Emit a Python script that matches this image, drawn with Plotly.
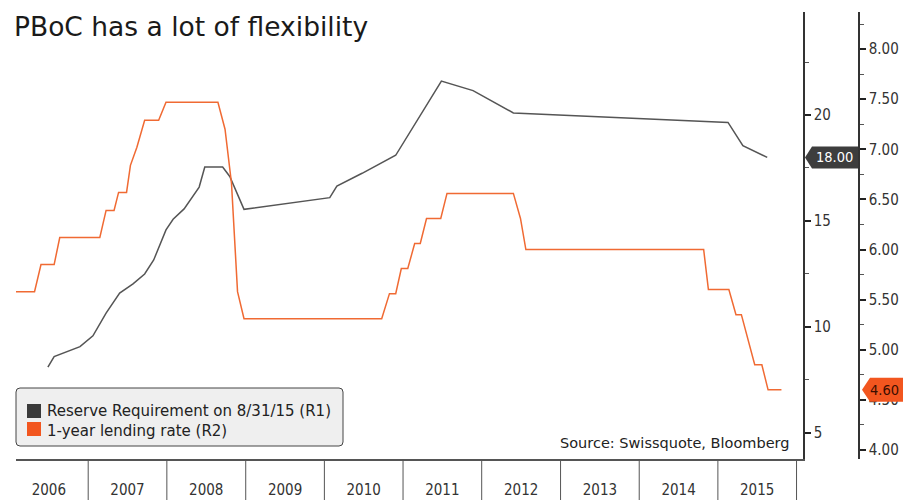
import plotly.graph_objects as go

# ---------------- data ----------------
rr_dates = ["2006-06-28", "2006-07-27", "2006-11-24", "2007-01-23", "2007-03-25",
            "2007-05-27", "2007-07-28", "2007-09-20", "2007-11-01", "2007-12-28",
            "2008-01-30", "2008-03-21", "2008-05-30", "2008-06-25", "2008-09-16",
            "2008-10-19", "2008-12-24", "2010-01-26", "2010-02-28", "2010-06-25",
            "2010-11-28", "2011-06-28", "2011-11-22", "2012-05-27", "2015-02-17",
            "2015-04-27", "2015-08-18"]
rr_values = [8.1, 8.6, 9.07, 9.58, 10.65,
             11.6, 12.03, 12.5, 13.16, 14.58,
             15.08, 15.57, 16.6, 17.55, 17.55,
             17.1, 15.55, 16.1, 16.65, 17.25,
             18.1, 21.6, 21.15, 20.1, 19.65,
             18.55, 18.0]

lr_dates = ["2006-01-15", "2006-04-27", "2006-05-27", "2006-07-27", "2006-08-22",
            "2007-02-24", "2007-03-25", "2007-05-01", "2007-05-22", "2007-06-28",
            "2007-07-16", "2007-08-15", "2007-09-20", "2007-11-24", "2007-12-28",
            "2008-08-25", "2008-09-27", "2008-10-27", "2008-11-24", "2008-12-24",
            "2010-09-24", "2010-10-30", "2010-11-28", "2010-12-24", "2011-01-23",
            "2011-02-24", "2011-03-22", "2011-04-20", "2011-06-25", "2011-07-24",
            "2012-05-27", "2012-06-29", "2012-07-24", "2014-10-27", "2014-11-18",
            "2015-02-21", "2015-03-26", "2015-04-20", "2015-06-21", "2015-07-24",
            "2015-08-22", "2015-10-23"]
lr_values = [5.58, 5.58, 5.85, 5.85, 6.12,
             6.12, 6.39, 6.39, 6.57, 6.57,
             6.84, 7.02, 7.29, 7.29, 7.47,
             7.47, 7.20, 6.66, 5.58, 5.31,
             5.31, 5.56, 5.56, 5.81, 5.81,
             6.06, 6.06, 6.31, 6.31, 6.56,
             6.56, 6.31, 6.00, 6.00, 5.60,
             5.60, 5.35, 5.35, 4.85, 4.85,
             4.60, 4.60]

series_names = ["Reserve Requirement on 8/31/15 (R1)", "1-year lending rate (R2)"]
year_bounds = [2007, 2008, 2009, 2010, 2011, 2012, 2013, 2014, 2015, 2016]
r1_ticks = [5, 10, 15, 20]
r2_ticks = [4.0, 4.5, 5.0, 5.5, 6.0, 6.5, 7.0, 7.5, 8.0]
title_text = "PBoC has a lot of flexibility"
source_text = "Source: Swissquote, Bloomberg"

# ---------------- styling ----------------
GREY = "#555555"
ORANGE = "#F06A33"
ORANGE_BOX = "#F2561F"
DARK_BOX = "#3D3D3D"
TXT = "#333333"
FONT_C = "'DejaVu Sans Condensed', 'DejaVu Sans', sans-serif"
FONT_R = "'DejaVu Sans', sans-serif"

W, H = 903, 500
L, R, T, B = 16, 44, 12, 41
PW, PH = W - L - R, H - T - B


def px(x):
    return (x - L) / PW


def py(y):
    return (H - B - y) / PH


fig = go.Figure()
fig.add_trace(go.Scatter(x=rr_dates, y=rr_values, mode="lines", name=series_names[0],
                         line=dict(color=GREY, width=1.5), yaxis="y", showlegend=False))
fig.add_trace(go.Scatter(x=lr_dates, y=lr_values, mode="lines", name=series_names[1],
                         line=dict(color=ORANGE, width=1.5), yaxis="y2", showlegend=False))

shapes = []
for yr in year_bounds:
    shapes.append(dict(type="line", xref="x", yref="paper", x0=f"{yr}-01-01", x1=f"{yr}-01-01",
                       y0=0, y1=-0.1, line=dict(color="#555555", width=1), layer="above"))

# legend box (rounded)
hw, hh, r = 163.5, 29, 4
path = (f"M{-hw + r},{-hh} L{hw - r},{-hh} Q{hw},{-hh} {hw},{-hh + r} L{hw},{hh - r} "
        f"Q{hw},{hh} {hw - r},{hh} L{-hw + r},{hh} Q{-hw},{hh} {-hw},{hh - r} "
        f"L{-hw},{-hh + r} Q{-hw},{-hh} {-hw + r},{-hh} Z")
shapes.append(dict(type="path", xref="paper", yref="paper", xsizemode="pixel", ysizemode="pixel",
                   xanchor=px(179.5), yanchor=py(417), path=path,
                   fillcolor="#EFEFEF", line=dict(color="#444444", width=1), layer="above"))
shapes.append(dict(type="rect", xref="paper", yref="paper", x0=px(27), x1=px(41),
                   y0=py(418), y1=py(404), fillcolor="#3A3A3A", line=dict(width=0), layer="above"))
shapes.append(dict(type="rect", xref="paper", yref="paper", x0=px(27), x1=px(41),
                   y0=py(436), y1=py(422), fillcolor=ORANGE_BOX, line=dict(width=0), layer="above"))

# last-value tags
shapes.append(dict(type="path", xref="paper", yref="y", xsizemode="pixel", ysizemode="pixel",
                   xanchor=px(805), yanchor=rr_values[-1],
                   path="M0,0 L7,11 L53,11 L53,-11 L7,-11 Z",
                   fillcolor=DARK_BOX, line=dict(width=0), layer="above"))
shapes.append(dict(type="path", xref="paper", yref="y2", xsizemode="pixel", ysizemode="pixel",
                   xanchor=px(862), yanchor=lr_values[-1],
                   path="M0,0 L8,12 L48,12 L48,-12 L8,-12 Z",
                   fillcolor=ORANGE_BOX, line=dict(width=0), layer="above"))

annotations = [
    dict(text=series_names[0], xref="paper", yref="paper", x=px(45), y=py(411),
         xanchor="left", yanchor="middle", showarrow=False, font=dict(size=15, color="#222222", family=FONT_R)),
    dict(text=series_names[1], xref="paper", yref="paper", x=px(45), y=py(431),
         xanchor="left", yanchor="middle", showarrow=False, font=dict(size=15, color="#222222", family=FONT_R)),
    dict(text=source_text, xref="paper", yref="paper", x=px(791), y=py(443),
         xanchor="right", yanchor="middle", showarrow=False, font=dict(size=14.5, color="#222222", family=FONT_R)),
    dict(text=f"{rr_values[-1]:.2f}", xref="paper", yref="y", x=px(834), y=rr_values[-1],
         xanchor="center", yanchor="middle", showarrow=False, font=dict(size=14.5, color="white", family=FONT_C)),
    dict(text=f"{lr_values[-1]:.2f}", xref="paper", yref="y2", x=px(885), y=lr_values[-1],
         xanchor="center", yanchor="middle", showarrow=False, font=dict(size=14.5, color="#3A0E00", family=FONT_C)),
]

fig.update_layout(
    width=W, height=H,
    margin=dict(l=L, r=R, t=T, b=B, autoexpand=False),
    paper_bgcolor="white", plot_bgcolor="white",
    font=dict(family=FONT_C, color=TXT, size=14),
    title=dict(text=title_text, x=14 / W, xanchor="left", y=1 - 27 / H, yanchor="middle",
               font=dict(size=26.5, color="#1A1A1A", family=FONT_R)),
    xaxis=dict(type="date", domain=[0, (803 - L) / PW], range=["2006-01-31", "2016-01-31"],
               tick0="2006-01-01", dtick="M12", tickformat="%Y", ticklabelmode="period",
               ticks="", ticklabelstandoff=16, showgrid=False, zeroline=False, automargin=False,
               showline=True, linecolor="#555555", linewidth=2,
               tickfont=dict(size=15, color=TXT, family=FONT_C)),
    yaxis=dict(side="right", anchor="x", range=[3.77, 24.86], tickvals=r1_ticks, automargin=False,
               ticks="outside", ticklen=6, tickwidth=2, tickcolor="#222222",
               minor=dict(dtick=2.5, tick0=0, ticks="outside", ticklen=4, tickwidth=1, tickcolor="#555555"),
               showline=True, linecolor="#333333", linewidth=1.5, showgrid=False, zeroline=False,
               tickfont=dict(size=15, color=TXT, family=FONT_C)),
    yaxis2=dict(side="right", overlaying="y", anchor="free", position=1, range=[3.91, 8.37],
                tickvals=r2_ticks, tickformat=".2f", automargin=False,
                ticks="outside", ticklen=6, tickwidth=2, tickcolor="#222222",
                minor=dict(dtick=0.25, tick0=4, ticks="outside", ticklen=4, tickwidth=1, tickcolor="#555555"),
                showline=True, linecolor="#333333", linewidth=1.5, showgrid=False, zeroline=False,
                tickfont=dict(size=15, color=TXT, family=FONT_C)),
    shapes=shapes,
    annotations=annotations,
    showlegend=False,
)

fig.write_html("out.html")
